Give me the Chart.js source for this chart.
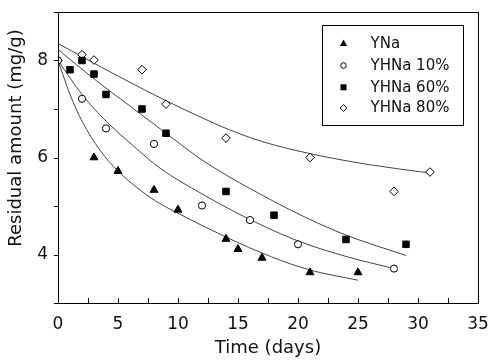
<!DOCTYPE html>
<html lang="en">
<head>
  <meta charset="UTF-8">
  <title>Residual amount vs time</title>
  <script src="https://cdn.jsdelivr.net/npm/chart.js"></script>
  <style>
    html, body { margin: 0; padding: 0; background: #fff; }
    #wrap { width: 492px; height: 362px; }
  </style>
</head>
<body>
  <div id="wrap"><canvas id="chart" width="492" height="362"></canvas></div>

  <script>
    // measured points
    const seriesNames = ['YNa', 'YHNa 10%', 'YHNa 60%', 'YHNa 80%'];

    const ynaDays = [3, 5, 8, 10, 14, 15, 17, 21, 25];
    const ynaValues = [6.0, 5.72, 5.33, 4.92, 4.32, 4.11, 3.93, 3.63, 3.63];

    const h10Days = [0, 2, 4, 8, 12, 16, 20, 28];
    const h10Values = [8.0, 7.21, 6.6, 6.28, 5.01, 4.71, 4.21, 3.71];

    const h60Days = [1, 2, 3, 4, 7, 9, 14, 18, 24, 29];
    const h60Values = [7.81, 8.0, 7.72, 7.3, 7.0, 6.5, 5.3, 4.81, 4.31, 4.21];

    const h80Days = [0, 2, 3, 7, 9, 14, 21, 28, 31];
    const h80Values = [8.0, 8.12, 8.01, 7.81, 7.1, 6.4, 6.0, 5.3, 5.7];

    // fitted curves
    const ynaFitDays = [0, 1, 2, 3.5, 5, 7, 8.5, 10, 14, 17.7, 21, 25];
    const ynaFitValues = [8.0, 7.3, 6.75, 6.15, 5.72, 5.3, 5.05, 4.85, 4.36, 3.96, 3.68, 3.47];

    const h10FitDays = [0, 2, 4, 6, 8.5, 12, 16, 20, 24, 28];
    const h10FitValues = [8.0, 7.3, 6.75, 6.3, 5.78, 5.25, 4.72, 4.28, 3.96, 3.71];

    const h60FitDays = [0, 2, 4, 6, 9, 12, 14, 16, 20, 24, 29];
    const h60FitValues = [8.23, 7.82, 7.43, 7.06, 6.5, 5.95, 5.64, 5.36, 4.84, 4.4, 3.98];

    const h80FitDays = [0, 2, 4, 6, 9, 12, 14, 17, 21, 26, 31];
    const h80FitValues = [8.35, 8.08, 7.81, 7.55, 7.17, 6.82, 6.6, 6.33, 6.08, 5.85, 5.68];

    // axes
    const xTickLabels = [0, 5, 10, 15, 20, 25, 30, 35];
    const yTickLabels = [4, 6, 8];

    const FONT = 'DejaVu Sans';
    const INK = '#111';

    const pts = (xs, ys) => xs.map((d, i) => ({ x: d, y: ys[i] }));

    const markerStyles = [
      { pointStyle: 'triangle', pointRadius: 4.6, backgroundColor: '#000', borderColor: '#000' },
      { pointStyle: 'circle', pointRadius: 3.6, backgroundColor: '#fff', borderColor: '#000' },
      { pointStyle: 'rect', pointRadius: 4.6, backgroundColor: '#000', borderColor: '#000' },
      { pointStyle: 'rectRot', pointRadius: 4.3, backgroundColor: '#fff', borderColor: '#000' }
    ];

    function fitLine(xs, ys) {
      return {
        type: 'line',
        data: pts(xs, ys),
        borderColor: '#444',
        borderWidth: 1,
        pointRadius: 0,
        fill: false,
        cubicInterpolationMode: 'monotone',
        order: 2
      };
    }

    function markers(i, xs, ys) {
      return Object.assign({
        type: 'scatter',
        label: seriesNames[i],
        data: pts(xs, ys),
        borderWidth: 1,
        order: 1
      }, markerStyles[i]);
    }

    // no extra room for half labels at the axis ends
    function noEdgePadding(s) {
      s.paddingTop = 0;
      s.paddingBottom = 0;
      s.paddingLeft = 0;
      s.paddingRight = 0;
    }

    // frame, tick marks, y title and the boxed legend
    const extras = {
      id: 'extras',
      afterDraw(chart) {
        const { ctx, chartArea: a, scales: { x, y } } = chart;
        ctx.save();
        ctx.strokeStyle = '#000';
        ctx.lineWidth = 1;
        ctx.strokeRect(a.left + 0.5, a.top + 0.5, a.right - a.left, a.bottom - a.top);

        ctx.beginPath();
        x.ticks.forEach(t => {
          const px = Math.round(x.getPixelForValue(t.value)) + 0.5;
          ctx.moveTo(px, a.bottom);
          ctx.lineTo(px, a.bottom - 5);
        });
        y.ticks.forEach(t => {
          const py = Math.round(y.getPixelForValue(t.value)) + 0.5;
          ctx.moveTo(a.left, py);
          ctx.lineTo(a.left - 4, py);
        });
        ctx.stroke();

        // y axis title
        ctx.fillStyle = INK;
        ctx.font = '18px "' + FONT + '"';
        ctx.textAlign = 'center';
        ctx.textBaseline = 'middle';
        ctx.translate(16, 138);
        ctx.rotate(-Math.PI / 2);
        ctx.fillText('Residual amount (mg/g)', 0, 0);
        ctx.restore();

        // legend
        ctx.save();
        ctx.strokeStyle = '#000';
        ctx.lineWidth = 1;
        ctx.strokeRect(322.5, 25.5, 141, 100);
        const rows = [43.5, 65.5, 87.3, 108];
        const mx = 343.5;
        ctx.font = '15px "' + FONT + '"';
        ctx.textAlign = 'left';
        ctx.textBaseline = 'middle';
        rows.forEach((ry, i) => {
          ctx.fillStyle = '#000';
          ctx.beginPath();
          if (i === 0) {
            ctx.moveTo(mx, ry - 4); ctx.lineTo(mx + 3.6, ry + 2.6); ctx.lineTo(mx - 3.6, ry + 2.6);
            ctx.closePath(); ctx.fill();
          } else if (i === 1) {
            ctx.arc(mx, ry, 2.8, 0, Math.PI * 2); ctx.stroke();
          } else if (i === 2) {
            ctx.fillRect(mx - 3, ry - 3, 6, 6);
          } else {
            ctx.moveTo(mx, ry - 3.4); ctx.lineTo(mx + 3.4, ry); ctx.lineTo(mx, ry + 3.4); ctx.lineTo(mx - 3.4, ry);
            ctx.closePath(); ctx.stroke();
          }
          ctx.fillStyle = INK;
          ctx.fillText(seriesNames[i], 370.5, ry + 0.5);
        });
        ctx.restore();
      }
    };

    new Chart(document.getElementById('chart'), {
      type: 'scatter',
      data: {
        datasets: [
          fitLine(ynaFitDays, ynaFitValues),
          fitLine(h10FitDays, h10FitValues),
          fitLine(h60FitDays, h60FitValues),
          fitLine(h80FitDays, h80FitValues),
          markers(0, ynaDays, ynaValues),
          markers(1, h10Days, h10Values),
          markers(2, h60Days, h60Values),
          markers(3, h80Days, h80Values)
        ]
      },
      options: {
        responsive: false,
        animation: false,
        layout: { padding: { top: 12, right: 14, bottom: 0, left: 0 } },
        plugins: {
          legend: { display: false },
          tooltip: { enabled: false }
        },
        scales: {
          x: {
            type: 'linear',
            min: 0,
            max: 35,
            afterFit: s => { s.height = 59; noEdgePadding(s); },
            border: { display: false },
            grid: { display: false, drawTicks: false },
            ticks: {
              stepSize: 2.5,
              autoSkip: false,
              maxRotation: 0,
              padding: 11,
              color: INK,
              font: { family: FONT, size: 17 },
              callback: v => xTickLabels.includes(v) ? String(v) : ''
            },
            title: {
              display: true,
              text: 'Time (days)',
              color: INK,
              font: { family: FONT, size: 18 },
              padding: { top: 0, bottom: 3 }
            }
          },
          y: {
            min: 3,
            max: 9,
            afterFit: s => { s.width = 58; noEdgePadding(s); },
            border: { display: false },
            grid: { display: false, drawTicks: false },
            ticks: {
              stepSize: 1,
              autoSkip: false,
              padding: 10,
              color: INK,
              font: { family: FONT, size: 17 },
              callback: v => yTickLabels.includes(v) ? String(v) : ''
            }
          }
        }
      },
      plugins: [extras]
    });
  </script>
</body>
</html>
